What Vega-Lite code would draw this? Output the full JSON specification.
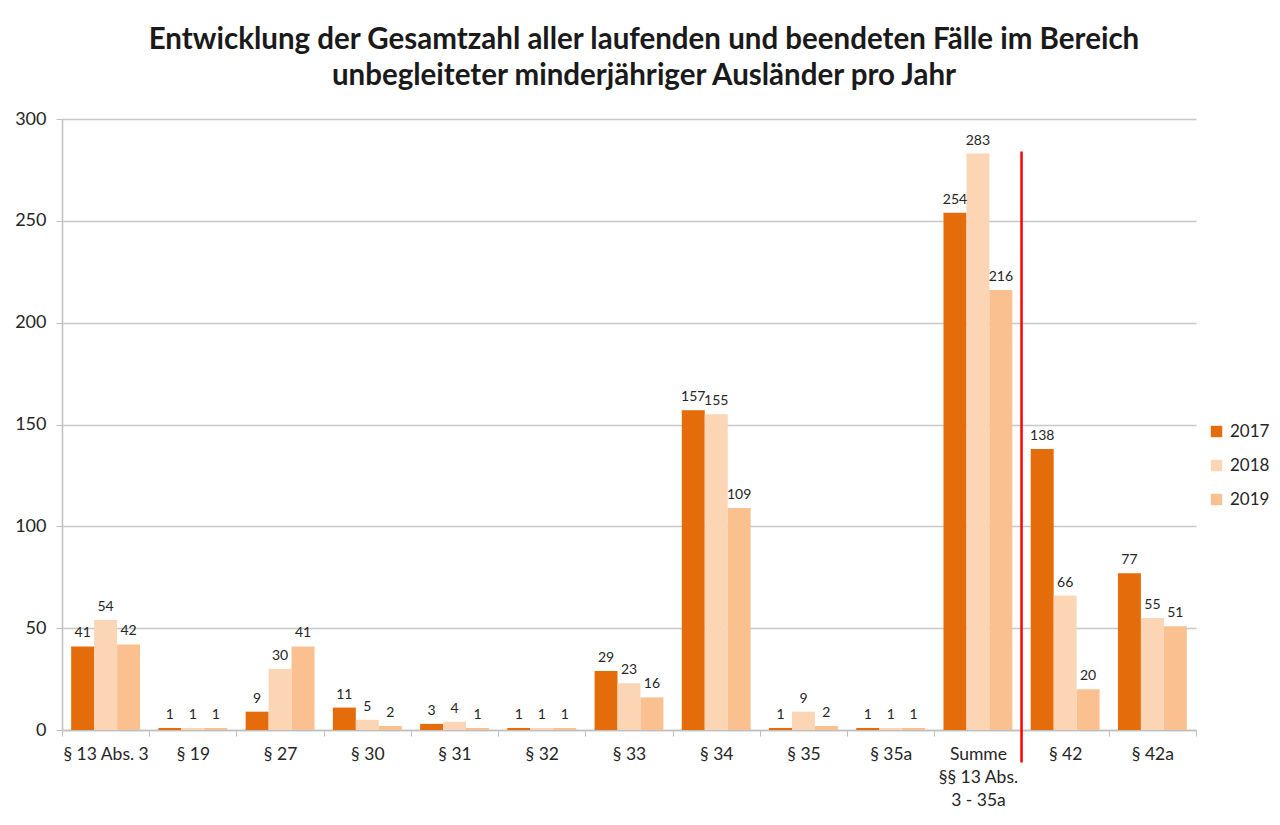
{
  "$schema": "https://vega.github.io/schema/vega-lite/v6.json",
  "width": 1134,
  "height": 611,
  "autosize": "none",
  "padding": {"left": 62, "top": 119, "right": 84, "bottom": 95},
  "background": "white",
  "config": {
    "font": "Lato",
    "view": {"stroke": null},
    "title": {"font": "Lato", "fontSize": 29.5, "fontWeight": "bold", "color": "#1a1a1a", "lineHeight": 36}
  },
  "title": {
    "text": ["Entwicklung der Gesamtzahl aller laufenden und beendeten Fälle im Bereich", "unbegleiteter minderjähriger Ausländer pro Jahr"],
    "anchor": "middle",
    "offset": 19,
    "dx": 15
  },
  "datasets": {
    "bars": [
      {"cat": "§ 13 Abs. 3", "year": "2017", "value": 41},
      {"cat": "§ 13 Abs. 3", "year": "2018", "value": 54},
      {"cat": "§ 13 Abs. 3", "year": "2019", "value": 42},
      {"cat": "§ 19", "year": "2017", "value": 1},
      {"cat": "§ 19", "year": "2018", "value": 1},
      {"cat": "§ 19", "year": "2019", "value": 1},
      {"cat": "§ 27", "year": "2017", "value": 9},
      {"cat": "§ 27", "year": "2018", "value": 30},
      {"cat": "§ 27", "year": "2019", "value": 41},
      {"cat": "§ 30", "year": "2017", "value": 11},
      {"cat": "§ 30", "year": "2018", "value": 5},
      {"cat": "§ 30", "year": "2019", "value": 2},
      {"cat": "§ 31", "year": "2017", "value": 3},
      {"cat": "§ 31", "year": "2018", "value": 4},
      {"cat": "§ 31", "year": "2019", "value": 1},
      {"cat": "§ 32", "year": "2017", "value": 1},
      {"cat": "§ 32", "year": "2018", "value": 1},
      {"cat": "§ 32", "year": "2019", "value": 1},
      {"cat": "§ 33", "year": "2017", "value": 29},
      {"cat": "§ 33", "year": "2018", "value": 23},
      {"cat": "§ 33", "year": "2019", "value": 16},
      {"cat": "§ 34", "year": "2017", "value": 157},
      {"cat": "§ 34", "year": "2018", "value": 155},
      {"cat": "§ 34", "year": "2019", "value": 109},
      {"cat": "§ 35", "year": "2017", "value": 1},
      {"cat": "§ 35", "year": "2018", "value": 9},
      {"cat": "§ 35", "year": "2019", "value": 2},
      {"cat": "§ 35a", "year": "2017", "value": 1},
      {"cat": "§ 35a", "year": "2018", "value": 1},
      {"cat": "§ 35a", "year": "2019", "value": 1},
      {"cat": "Summe §§ 13 Abs. 3 - 35a", "year": "2017", "value": 254},
      {"cat": "Summe §§ 13 Abs. 3 - 35a", "year": "2018", "value": 283},
      {"cat": "Summe §§ 13 Abs. 3 - 35a", "year": "2019", "value": 216},
      {"cat": "§ 42", "year": "2017", "value": 138},
      {"cat": "§ 42", "year": "2018", "value": 66},
      {"cat": "§ 42", "year": "2019", "value": 20},
      {"cat": "§ 42a", "year": "2017", "value": 77},
      {"cat": "§ 42a", "year": "2018", "value": 55},
      {"cat": "§ 42a", "year": "2019", "value": 51}
    ],
    "divider": [
      {"cat": "Summe §§ 13 Abs. 3 - 35a", "top": 284, "bottom": -16}
    ]
  },
  "layer": [
    {
      "data": {"name": "bars"},
      "mark": {"type": "bar"},
      "encoding": {
        "x": {
          "field": "cat", "type": "nominal", "sort": null,
          "scale": {"paddingInner": 0, "paddingOuter": 0},
          "axis": {
            "title": null, "labelAngle": 0, "labelFontSize": 17.5, "labelColor": "#262626",
            "labelPadding": 9, "labelLineHeight": 23,
            "labelExpr": "datum.value == 'Summe §§ 13 Abs. 3 - 35a' ? ['Summe', '§§ 13 Abs.', '3 - 35a'] : datum.value",
            "tickBand": "extent", "tickSize": 6, "tickColor": "#bfbfbf", "domainColor": "#bfbfbf", "domainWidth": 1.5
          }
        },
        "xOffset": {"field": "year", "type": "nominal", "scale": {"paddingInner": 0, "paddingOuter": 0.4}},
        "y": {
          "field": "value", "type": "quantitative",
          "scale": {"domain": [0, 300], "nice": false},
          "axis": {
            "title": null, "values": [0, 50, 100, 150, 200, 250, 300], "labelFontSize": 18, "labelColor": "#262626",
            "tickSize": 6, "tickColor": "#bfbfbf", "labelPadding": 10,
            "gridColor": "#c8c8c8", "gridWidth": 1.5, "domainColor": "#bfbfbf", "domainWidth": 1.5
          }
        },
        "color": {
          "field": "year", "type": "nominal",
          "scale": {"domain": ["2017", "2018", "2019"], "range": ["#E46C0A", "#FCD5B5", "#FAC090"]},
          "legend": {
            "title": null, "orient": "none", "legendX": 1146, "legendY": 304,
            "symbolType": "square", "symbolSize": 130, "labelFontSize": 17, "labelColor": "#262626",
            "rowPadding": 16, "labelOffset": 5
          }
        }
      }
    },
    {
      "data": {"name": "bars"},
      "mark": {"type": "text", "baseline": "bottom", "dy": -6, "fontSize": 14, "color": "#262626"},
      "encoding": {
        "x": {"field": "cat", "type": "nominal", "sort": null},
        "xOffset": {"field": "year", "type": "nominal"},
        "y": {"field": "value", "type": "quantitative"},
        "text": {"field": "value", "type": "quantitative"}
      }
    },
    {
      "data": {"name": "divider"},
      "mark": {"type": "rule", "color": "#FF0000", "strokeWidth": 2.5},
      "encoding": {
        "x": {"field": "cat", "type": "nominal", "sort": null, "bandPosition": 1},
        "y": {"field": "top", "type": "quantitative"},
        "y2": {"field": "bottom"}
      }
    }
  ]
}
